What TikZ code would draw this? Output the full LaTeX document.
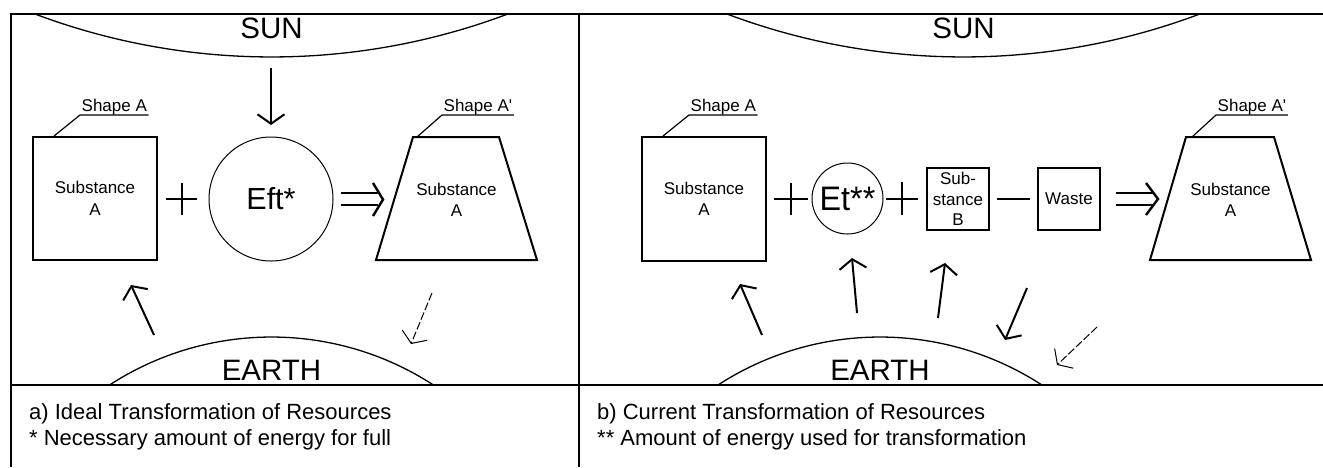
\documentclass[tikz,border=0pt]{standalone}
\usepackage{fontspec}
\usepackage{graphicx}
\setmainfont{Liberation Sans}
\newfontfamily\labfont{Liberation Sans}
\usetikzlibrary{arrows.meta,calc}
\begin{document}
\begin{tikzpicture}[x=1pt,y=-1pt,
  frameline/.style={line width=2.2pt},
  bigbox/.style={draw, line width=2pt, minimum width=124pt, minimum height=123pt, inner sep=0pt, align=center, font=\fontsize{17}{21.5}\selectfont},
  smallbox/.style={draw, line width=2pt, minimum size=62pt, inner sep=0pt, align=center, font=\fontsize{17}{20.3}\selectfont},
  txt/.style={inner sep=0pt, align=center, font=\fontsize{17}{21.5}\selectfont},
  lbl/.style={anchor=south west, inner xsep=1.5pt, inner ysep=0pt, font=\labfont\fontsize{17}{20}\selectfont},
  leader/.style={line width=1.2pt},
  opline/.style={line width=2pt},
  impline/.style={line width=2.4pt},
  arw/.style={line width=2pt, -{Straight Barb[length=9.5pt,width=27pt]}},
  darw/.style={line width=1pt, dash pattern=on 8pt off 2.5pt, -{Straight Barb[length=9pt,width=27pt]}},
  arcline/.style={line width=1.3pt},
  bigtxt/.style={inner sep=0pt, anchor=base, font=\fontsize{29.5}{34}\selectfont},
  captxt/.style={inner sep=0pt, anchor=base west, font=\fontsize{22}{26}\selectfont}
]
\useasboundingbox (0,0) rectangle (1323,467);

% frame
\draw[frameline] (11,467) -- (11,14) -- (1323,14);
\draw[frameline] (579,14) -- (579,467);
\draw[line width=2.7pt] (11,385) -- (1323,385);

% ===== left panel =====
\draw[arcline] (35,14) arc[start angle=110.6, end angle=69.4, radius=672];
\node[bigtxt] (sunA) at (271.5,38.5) {SUN};
\draw[arcline] (109.5,385) arc[start angle=-123, end angle=-57, radius=297.4];
\node[bigtxt] (earthA) at (271.5,380.5) {EARTH};

\node[bigbox] (boxA) at (95,198.5) {Substance\\A};
\node[lbl] (lblA) at (80,115) {Shape A};
\draw[leader] (lblA.south east) -- (lblA.south west) -- ($(boxA.north west)+(22,0)$);

\draw[opline] (166,199) -- (197,199) (181.5,183) -- (181.5,215);

\node[draw, circle, line width=1pt, minimum size=124pt, inner sep=0pt, font=\fontsize{30.5}{36}\selectfont] (eft) at (271,199) {Eft*};

\draw[impline] (341,193) -- (378,193) (341,205) -- (378,205);
\draw[impline] (373,183) -- (383,199.5) -- (373,216);

\draw[line width=2pt] (413,137) -- (499,137) -- (537,260) -- (376,260) -- cycle;
\node[txt] (trapA) at (456.5,200) {Substance\\A};
\coordinate (trapAtl) at (417,137);
\node[lbl] (lblAp) at (442,115) {Shape A'};
\draw[leader] (lblAp.south east) -- (lblAp.south west) -- (trapAtl);

\coordinate (sunArrS) at (271,68);
\coordinate (sunArrE) at (271,125);
\draw[arw] (sunArrS) -- (sunArrE);
\coordinate (upAS) at (154,335);
\coordinate (upAE) at (131,285);
\draw[arw] (upAS) -- (upAE);
\coordinate (dAS) at (432,293);
\coordinate (dAE) at (411,344);
\draw[darw] (dAS) -- (dAE);

\node[captxt] (capA1) at (29,419) {a) Ideal Transformation of Resources};
\node[captxt] (capA2) at (29,445) {* Necessary amount of energy for full};

% ===== right panel =====
\draw[arcline] (727,14) arc[start angle=110.6, end angle=69.4, radius=672];
\node[bigtxt] (sunB) at (963.5,38.5) {SUN};
\draw[arcline] (718,385) arc[start angle=-123, end angle=-57, radius=297.4];
\node[bigtxt] (earthB) at (880,380.5) {EARTH};

\node[bigbox, minimum height=124pt] (boxB) at (704,199) {Substance\\A};
\node[lbl] (lblB) at (689,115) {Shape A};
\draw[leader] (lblB.south east) -- (lblB.south west) -- ($(boxB.north west)+(22,0)$);

\draw[opline] (774,199) -- (808,199) (791,183) -- (791,215);

\node[draw, circle, line width=1pt, minimum size=71pt, inner sep=0pt, font=\fontsize{34}{40}\selectfont] (et) at (847.5,198.5) {\scalebox{0.95}[1]{Et**}};

\draw[opline] (886,199) -- (918,199) (902,182) -- (902,215);

\node[smallbox] (subB) at (958,199) {Sub-\\stance\\B};

\draw[opline] (997,199) -- (1030,199);

\node[smallbox] (waste) at (1069,199) {Waste};

\draw[impline] (1116,193) -- (1153,193) (1116,205) -- (1153,205);
\draw[impline] (1146,183) -- (1158,199) -- (1146,215);

\draw[line width=2pt] (1186,137) -- (1274,137) -- (1311,260) -- (1150,260) -- cycle;
\node[txt] (trapB) at (1230.5,200) {Substance\\A};
\coordinate (trapBtl) at (1192,137);
\node[lbl] (lblBp) at (1216,115) {Shape A'};
\draw[leader] (lblBp.south east) -- (lblBp.south west) -- (trapBtl);

\coordinate (b1S) at (762,335);
\coordinate (b1E) at (740,284);
\draw[arw] (b1S) -- (b1E);
\coordinate (b2S) at (857,313);
\coordinate (b2E) at (852,258);
\draw[arw] (b2S) -- (b2E);
\coordinate (b3S) at (938,318);
\coordinate (b3E) at (945,263);
\draw[arw] (b3S) -- (b3E);
\coordinate (b4S) at (1027,288);
\coordinate (b4E) at (1005,340);
\draw[arw] (b4S) -- (b4E);
\coordinate (dBS) at (1097,327);
\coordinate (dBE) at (1057,365);
\draw[darw] (dBS) -- (dBE);

\node[captxt] (capB1) at (597,419) {b) Current Transformation of Resources};
\node[captxt] (capB2) at (597,445) {** Amount of energy used for transformation};
\end{tikzpicture}
\end{document}
